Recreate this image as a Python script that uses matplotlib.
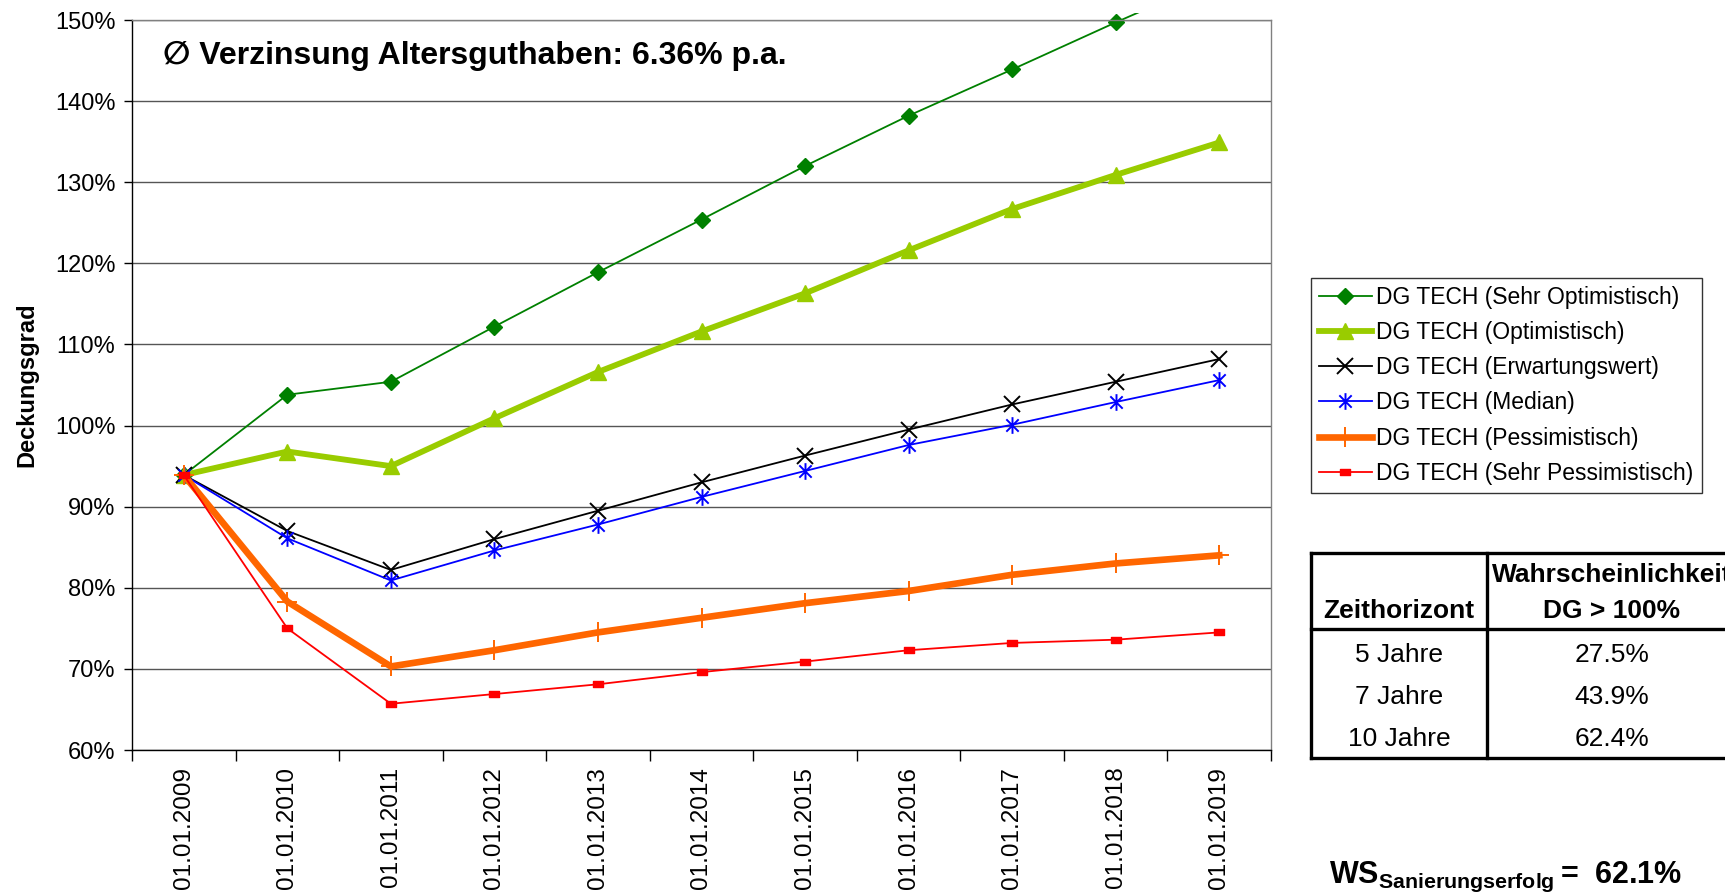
import matplotlib
matplotlib.use("Agg")
import matplotlib.pyplot as plt
from matplotlib import font_manager as fm
from matplotlib.lines import Line2D
from matplotlib.path import Path
from matplotlib.transforms import Bbox, TransformedBbox
from matplotlib.ticker import FixedLocator, FuncFormatter

# ---- data -------------------------------------------------------------
dates = ["01.01.2009", "01.01.2010", "01.01.2011", "01.01.2012", "01.01.2013",
         "01.01.2014", "01.01.2015", "01.01.2016", "01.01.2017", "01.01.2018",
         "01.01.2019"]
sehr_optimistisch = [93.9, 103.8, 105.4, 112.2, 118.9, 125.4, 132.0, 138.2, 143.9, 149.7, 155.3]
optimistisch = [93.9, 96.8, 95.0, 100.9, 106.6, 111.6, 116.3, 121.6, 126.7, 130.9, 134.9]
erwartungswert = [93.9, 87.0, 82.2, 86.0, 89.5, 93.0, 96.3, 99.5, 102.6, 105.4, 108.2]
median = [93.9, 86.1, 80.9, 84.6, 87.8, 91.2, 94.4, 97.6, 100.1, 102.9, 105.6]
pessimistisch = [93.9, 78.3, 70.3, 72.3, 74.5, 76.3, 78.1, 79.6, 81.6, 83.0, 84.0]
sehr_pessimistisch = [93.9, 75.0, 65.7, 66.9, 68.1, 69.6, 70.9, 72.3, 73.2, 73.6, 74.5]

series_labels = ["DG TECH (Sehr Optimistisch)", "DG TECH (Optimistisch)",
                 "DG TECH (Erwartungswert)", "DG TECH (Median)",
                 "DG TECH (Pessimistisch)", "DG TECH (Sehr Pessimistisch)"]

y_ticks = [60, 70, 80, 90, 100, 110, 120, 130, 140, 150]

table_header = ["Zeithorizont", "Wahrscheinlichkeit\nDG > 100%"]
table_horizon = ["5 Jahre", "7 Jahre", "10 Jahre"]
table_prob = ["27.5%", "43.9%", "62.4%"]

title_text = "\u2205 Verzinsung Altersguthaben: 6.36% p.a."
ws_value = "62.1%"

# ---- fonts ------------------------------------------------------------
installed = {f.name for f in fm.fontManager.ttflist}
SANS = "Liberation Sans" if "Liberation Sans" in installed else "DejaVu Sans"

plt.rcParams["font.family"] = [SANS, "DejaVu Sans"]
plt.rcParams["mathtext.fontset"] = "custom"
plt.rcParams["mathtext.bf"] = f"{SANS}:bold"
plt.rcParams["mathtext.rm"] = SANS

W, H = 1725, 896
fig = plt.figure(figsize=(W / 100, H / 100), dpi=100)
fig.patch.set_facecolor("white")


def fx(px):
    return px / W


def fy(py):
    return 1 - py / H


ax = fig.add_axes([fx(132), fy(750), fx(1271) - fx(132), fy(20) - fy(750)])
x = list(range(len(dates)))

# custom markers
asterisk = Path([(-1, -1), (1, 1), (-1, 1), (1, -1), (0, -1.35), (0, 1.35)],
                [Path.MOVETO, Path.LINETO, Path.MOVETO, Path.LINETO,
                 Path.MOVETO, Path.LINETO])
flat_rect = Path([(-1, -0.55), (1, -0.55), (1, 0.55), (-1, 0.55), (-1, -0.55)],
                 [Path.MOVETO, Path.LINETO, Path.LINETO, Path.LINETO,
                  Path.CLOSEPOLY])

lines = []
lines += ax.plot(x, sehr_optimistisch, color="#008000", lw=1.3, marker="D",
                 ms=8.5, mfc="#008000", mec="#008000", label=series_labels[0])
lines += ax.plot(x, optimistisch, color="#99CC00", lw=4.2, marker="^",
                 ms=11.5, mfc="#99CC00", mec="#99CC00", label=series_labels[1])
lines += ax.plot(x, erwartungswert, color="black", lw=1.3, marker="x",
                 ms=11, mew=1.4, label=series_labels[2])
lines += ax.plot(x, median, color="#0000FF", lw=1.3, marker=asterisk,
                 ms=12, mew=1.4, mfc="none", mec="#0000FF", label=series_labels[3])
lines += ax.plot(x, pessimistisch, color="#FF6600", lw=4.8, marker="+",
                 ms=14, mew=1.4, mec="#FF6600", label=series_labels[4])
lines += ax.plot(x, sehr_pessimistisch, color="#FF0000", lw=1.3,
                 marker=flat_rect, ms=7.5, mfc="#FF0000", mec="#FF0000",
                 label=series_labels[5])

for ln in lines:
    ln.set_clip_box(TransformedBbox(Bbox([[0, 0], [1, 1.01]]), ax.transAxes))

ax.set_xlim(-0.5, len(dates) - 0.5)
ax.set_ylim(60, 150)

# y axis
ax.yaxis.set_major_locator(FixedLocator(y_ticks))
ax.yaxis.set_major_formatter(FuncFormatter(lambda v, p: f"{v:.0f}%"))
ax.grid(axis="y", color="#555555", lw=1.0)
ax.set_axisbelow(True)
ax.tick_params(axis="y", direction="out", length=6, width=1, pad=6,
               labelsize=17)

# x axis: labels at categories, tick marks between categories
ax.set_xticks(x)
ax.set_xticklabels(dates, rotation=90, fontsize=17.5)
ax.set_xticks([i - 0.5 for i in range(len(dates) + 1)], minor=True)
ax.tick_params(axis="x", which="major", length=0, pad=12)
ax.tick_params(axis="x", which="minor", direction="out", length=8, width=1)

for side in ("top", "right"):
    ax.spines[side].set_color("#808080")
    ax.spines[side].set_linewidth(1.0)
for side in ("left", "bottom"):
    ax.spines[side].set_color("black")
    ax.spines[side].set_linewidth(1.0)

# axis label and headline
fig.text(fx(27), fy(385), "Deckungsgrad", rotation=90, ha="center",
         va="center", fontsize=17, fontweight="bold")
fig.text(fx(163), fy(56), title_text, ha="left", va="center",
         fontsize=23, fontweight="bold")

# legend
leg = fig.legend(handles=lines, labels=series_labels, loc="upper left",
                 bbox_to_anchor=(fx(1311), fy(278)), fontsize=16.5,
                 frameon=True, fancybox=False, framealpha=1,
                 edgecolor="#333333", handlelength=2.3, handletextpad=0.2,
                 labelspacing=0.53, borderpad=0.35, borderaxespad=0)
leg.get_frame().set_linewidth(1.0)

# probability table
tl, tr, tc = 1311, 1745, 1487
tt, th, tb = 553, 629, 758
for (x0, y0, x1, y1) in [(tl, tt, tr, tt), (tl, tb, tr, tb), (tl, th, tr, th),
                         (tl, tt, tl, tb), (tc, tt, tc, tb)]:
    fig.add_artist(Line2D([fx(x0), fx(x1)], [fy(y0), fy(y1)],
                          transform=fig.transFigure, color="black", lw=2.4,
                          solid_capstyle="projecting"))
c1, c2 = (tl + tc) / 2, 1612
fig.text(fx(c1), fy(611), table_header[0], ha="center", va="center",
         fontsize=19, fontweight="bold")
head2 = table_header[1].split("\n")
fig.text(fx(c2), fy(575), head2[0], ha="center", va="center",
         fontsize=19, fontweight="bold")
fig.text(fx(c2), fy(611), head2[1], ha="center", va="center",
         fontsize=19, fontweight="bold")
for i, (hz, pr) in enumerate(zip(table_horizon, table_prob)):
    yy = 655 + i * 42
    fig.text(fx(c1), fy(yy), hz, ha="center", va="center", fontsize=19)
    fig.text(fx(c2), fy(yy), pr, ha="center", va="center", fontsize=19)

# overall success probability
fig.text(fx(1329), fy(883),
         r"$\mathbf{WS}_{\mathbf{Sanierungserfolg}}\mathbf{=\ " +
         ws_value.replace("%", r"\%") + "}$",
         ha="left", va="baseline", fontsize=22)

fig.savefig("out.png", dpi=100)
